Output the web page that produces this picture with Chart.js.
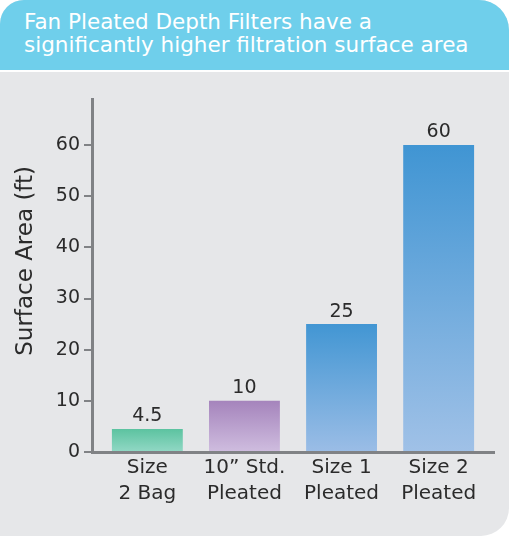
<!DOCTYPE html>
<html>
<head>
<meta charset="utf-8">
<script src="https://cdn.jsdelivr.net/npm/chart.js@4"></script>
<style>
html, body { margin: 0; padding: 0; background: #fff; }
#card { position: relative; width: 509px; height: 536px; background: #e6e7e9; border-radius: 24px 30px 28px 0; overflow: hidden; font-family: "DejaVu Sans", sans-serif; }
#head { height: 72px; background: #6fcfeb; border-bottom: 2px solid #fff; color: #fff; font-size: 21.5px; line-height: 23px; padding: 10px 0 0 24px; box-sizing: border-box; white-space: nowrap; }
#wrap { position: relative; width: 509px; height: 464px; }
</style>
</head>
<body>
<div id="card">
  <div id="head">Fan Pleated Depth Filters have a<br>significantly higher filtration surface area</div>
  <div id="wrap"><canvas id="mycanvas"></canvas></div>
</div>
<script>
var categories = [["Size", "2 Bag"], ["10\u201d Std.", "Pleated"], ["Size 1", "Pleated"], ["Size 2", "Pleated"]];
var values = [4.5, 10, 25, 60];
var valueText = ["4.5", "10", "25", "60"];
var topColors = ["#5cc3a0", "#a584bc", "#4296d3", "#4095d3"];
var bottomColors = ["#92d8c5", "#cfbddf", "#9bbde6", "#a0c1e7"];

var textColor = "#2b2b2b";
var axisColor = "#808285";
var fontFam = "'DejaVu Sans', sans-serif";

var points = values.map(function(v, i) { return {x: i, y: v}; });

// value labels on top of the bars
var barLabels = {
	id: "barLabels",
	afterDatasetsDraw: function(chart) {
		var ctx = chart.ctx;
		ctx.save();
		ctx.font = "19px " + fontFam;
		ctx.fillStyle = textColor;
		ctx.textAlign = "center";
		ctx.textBaseline = "bottom";
		chart.getDatasetMeta(0).data.forEach(function(bar, i) {
			ctx.fillText(valueText[i], bar.x, bar.y - 3);
		});
		ctx.restore();
	}
};

var ctx = document.getElementById("mycanvas");
var myBarChart = new Chart(ctx, {
	type: "bar",
	data: {
		datasets: [{
			data: points,
			categoryPercentage: 1,
			barPercentage: 0.73,
			borderWidth: 0,
			backgroundColor: function(c) {
				var chart = c.chart;
				if (!chart.chartArea) return topColors[c.dataIndex];
				var y = chart.scales.y;
				var top = y.getPixelForValue(values[c.dataIndex]);
				var bot = y.getPixelForValue(0);
				var g = chart.ctx.createLinearGradient(0, top, 0, bot);
				g.addColorStop(0, topColors[c.dataIndex]);
				g.addColorStop(1, bottomColors[c.dataIndex]);
				return g;
			}
		}]
	},
	options: {
		responsive: true,
		maintainAspectRatio: false,
		animation: false,
		events: [],
		layout: { padding: { top: 27, right: 15, left: 0, bottom: 0 } },
		plugins: { legend: { display: false }, tooltip: { enabled: false } },
		scales: {
			x: {
				type: "linear",
				offset: false,
				min: -0.57,
				max: 3.57,
				afterFit: function(s) { s.height = 84; },
				grid: { display: false, drawTicks: false, offset: false },
				border: { color: axisColor, width: 3 },
				ticks: {
					stepSize: 1,
					includeBounds: false,
					padding: 3,
					color: textColor,
					font: { family: fontFam, size: 20, lineHeight: 1.3 },
					callback: function(v) { return categories[v] || ""; }
				}
			},
			y: {
				min: 0,
				max: 69,
				afterFit: function(s) { s.width = 92; },
				grid: { drawOnChartArea: false, drawTicks: true, tickLength: 8, color: axisColor, lineWidth: 2 },
				border: { color: axisColor, width: 3 },
				ticks: {
					stepSize: 10,
					includeBounds: false,
					padding: 4,
					color: textColor,
					font: { family: fontFam, size: 19 }
				},
				title: {
					display: true,
					// leading spaces nudge the title up a bit, like the original
					text: "\u00a0\u00a0\u00a0\u00a0Surface Area (ft)",
					color: textColor,
					font: { family: fontFam, size: 23 },
					padding: { top: 12, bottom: 0 }
				}
			}
		}
	},
	plugins: [barLabels]
});
</script>
</body>
</html>
